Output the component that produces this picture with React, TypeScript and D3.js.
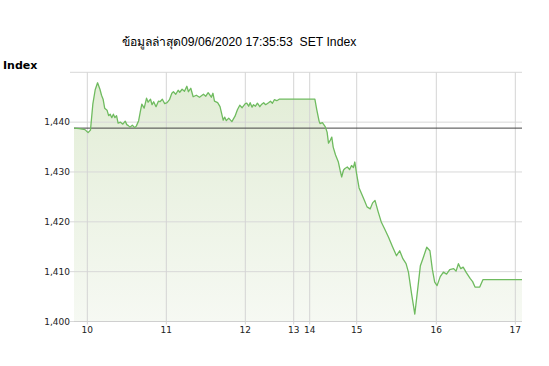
import React from "react";
import * as d3 from "d3";

const title = "ข้อมูลล่าสุด09/06/2020 17:35:53  SET Index";
const yTitle = "Index";
const prevClose = 1438.8;

// time (decimal hours) and index values
const times: number[] = [
  9.83, 9.9, 9.97, 10.01, 10.04, 10.07, 10.1, 10.13, 10.16, 10.18, 10.2, 10.22, 10.25, 10.27, 10.29,
  10.31, 10.33, 10.35, 10.37, 10.39, 10.42, 10.45, 10.48, 10.5, 10.52, 10.54, 10.57, 10.6, 10.62,
  10.65, 10.67, 10.69, 10.72, 10.75, 10.77, 10.8, 10.82, 10.84, 10.87, 10.9, 10.92, 10.95, 10.98,
  11.01, 11.04, 11.07, 11.09, 11.12, 11.15, 11.17, 11.2, 11.23, 11.26, 11.28, 11.31, 11.34, 11.38,
  11.42, 11.47, 11.5, 11.53, 11.57, 11.59, 11.61, 11.65, 11.68, 11.72, 11.74, 11.76, 11.79, 11.83,
  11.87, 11.9, 11.93, 11.96, 12.0, 12.03, 12.07, 12.1, 12.14, 12.17, 12.21, 12.25, 12.3, 12.34,
  12.38, 12.42, 12.48, 12.52, 12.56, 12.6, 12.65, 12.7, 12.75, 14.11, 14.15, 14.2, 14.22, 14.27,
  14.33, 14.37, 14.4, 14.44, 14.47, 14.5, 14.55, 14.61, 14.65, 14.68, 14.72, 14.75, 14.8, 14.85,
  14.89, 14.93, 14.96, 15.0, 15.03, 15.06, 15.1, 15.13, 15.17, 15.2, 15.23, 15.27, 15.31, 15.35,
  15.4, 15.45, 15.5, 15.54, 15.58, 15.62, 15.65, 15.69, 15.73, 15.77, 15.8, 15.84, 15.88, 15.92,
  15.95, 15.98, 16.01, 16.05, 16.09, 16.13, 16.17, 16.22, 16.25, 16.28, 16.31, 16.34, 16.38, 16.43,
  16.46, 16.49, 16.55, 16.59, 17.09,
];
const values: number[] = [
  1438.8, 1438.7, 1438.5, 1437.9, 1438.4, 1443.6, 1446.5, 1447.9, 1446.6, 1445.4, 1444.6, 1442.8, 1442.4, 1441.3, 1441.6,
  1440.9, 1441.6, 1440.9, 1441.3, 1439.8, 1440.0, 1439.6, 1440.2, 1439.5, 1439.3, 1439.0, 1439.4, 1438.9, 1439.2,
  1440.3, 1442.0, 1443.6, 1442.8, 1444.8, 1444.0, 1444.6, 1443.5, 1444.1, 1443.1, 1444.2, 1444.1, 1444.6, 1443.7,
  1443.9, 1444.5, 1445.8, 1446.1, 1445.6, 1446.4, 1446.0, 1446.6, 1446.2, 1447.2, 1446.1, 1446.8, 1445.1, 1445.4,
  1445.0, 1445.6, 1445.2, 1445.9, 1445.0, 1445.8, 1444.2, 1443.9, 1443.1, 1440.4, 1441.0, 1440.3, 1440.8, 1440.1,
  1441.2, 1442.5, 1443.4, 1442.9, 1443.7, 1443.8, 1443.2, 1443.9, 1443.0, 1443.5, 1443.2, 1443.8, 1443.1, 1443.6,
  1443.9, 1443.5, 1443.9, 1444.2, 1443.8, 1444.5, 1444.3, 1444.6, 1444.6, 1444.6, 1442.5, 1440.2, 1439.7, 1439.9,
  1439.1, 1438.0, 1435.8, 1436.4, 1437.0, 1435.0, 1433.4, 1432.0, 1430.2, 1429.0, 1430.4, 1430.7, 1431.0, 1430.5,
  1431.3, 1430.9, 1432.0, 1429.5, 1426.8, 1425.7, 1424.2, 1423.0, 1422.6, 1423.8, 1424.3, 1422.0, 1419.9, 1418.6,
  1416.9, 1415.0, 1413.2, 1414.2, 1412.6, 1411.6, 1409.9, 1405.5, 1401.5, 1407.0, 1411.2, 1413.0, 1414.9, 1414.2,
  1410.5, 1407.9, 1407.2, 1409.0, 1409.9, 1409.5, 1410.4, 1410.6, 1410.1, 1411.6, 1410.6, 1410.9, 1409.8, 1408.6,
  1408.0, 1406.9, 1406.9, 1408.4, 1408.4,
];

const xTicks: number[] = [10, 11, 12, 13, 14, 15, 16, 17];
const yTicks: number[] = [1400, 1410, 1420, 1430, 1440, 1450];

export default function App() {
  const W = 549;
  const H = 366;
  const left = 74;
  const right = 522;
  const top = 72.3;
  const bottom = 321.5;

  // trading-time axis: lunch break compressed (piecewise linear)
  const x = d3
    .scaleLinear()
    .domain([9.83, 10, 11, 12, 13, 14, 15, 16, 17, 17.09])
    .range([left, 87.3, 166.3, 245.3, 293.7, 309.7, 356.7, 436.3, 515.3, right]);
  const y = d3.scaleLinear().domain([1400, 1450]).range([bottom, top]);

  const data = times.map((t, i) => ({ t, v: values[i] }));
  const line = d3
    .line<{ t: number; v: number }>()
    .x((d) => x(d.t))
    .y((d) => y(d.v));
  const area = d3
    .area<{ t: number; v: number }>()
    .x((d) => x(d.t))
    .y0(bottom)
    .y1((d) => y(d.v));
  const fmt = d3.format(",");

  return (
    <svg width={W} height={H} style={{ position: "absolute", left: 0, top: 0 }}>
      <defs>
        <linearGradient id="fillG" x1="0" y1="0" x2="0" y2="1">
          <stop offset="0%" stopColor="#e2edd6" />
          <stop offset="100%" stopColor="#f6f9f3" />
        </linearGradient>
      </defs>
      <rect width={W} height={H} fill="#fff" />
      <text
        x={122}
        y={46}
        fontFamily="'Liberation Sans', Arial, 'Noto Sans', sans-serif"
        fontSize={12.2}
        fill="#000"
        style={{ whiteSpace: "pre" }}
      >
        {title}
      </text>
      <text x={3} y={69} fontFamily="'DejaVu Sans', Verdana, sans-serif" fontWeight="bold" fontSize={11} fill="#000">
        {yTitle}
      </text>

      <path d={area(data) || ""} fill="url(#fillG)" />

      {yTicks.map((t) => (
        <g key={"y" + t}>
          <line x1={70} x2={right} y1={y(t)} y2={y(t)} stroke="#d8d8d8" strokeWidth={1} />
          {t < 1450 && (
            <text
              x={70}
              y={y(t)}
              dy="0.35em"
              textAnchor="end"
              fontFamily="'DejaVu Sans', Verdana, sans-serif"
              fontSize={9}
              fill="#222"
            >
              {fmt(t)}
            </text>
          )}
        </g>
      ))}
      {xTicks.map((t) => (
        <g key={"x" + t}>
          <line x1={x(t)} x2={x(t)} y1={top} y2={bottom + 3} stroke="#d4d4d4" strokeWidth={1} />
          <text
            x={x(t)}
            y={333}
            textAnchor="middle"
            fontFamily="'DejaVu Sans', Verdana, sans-serif"
            fontSize={9}
            fill="#222"
          >
            {t}
          </text>
        </g>
      ))}
      <line x1={left} x2={right} y1={bottom} y2={bottom} stroke="#cfcfcf" />

      <line x1={left} x2={right} y1={y(prevClose)} y2={y(prevClose)} stroke="#444" strokeWidth={1} />
      <path d={line(data) || ""} fill="none" stroke="#6fbb5f" strokeWidth={1.3} strokeLinejoin="round" />
    </svg>
  );
}
